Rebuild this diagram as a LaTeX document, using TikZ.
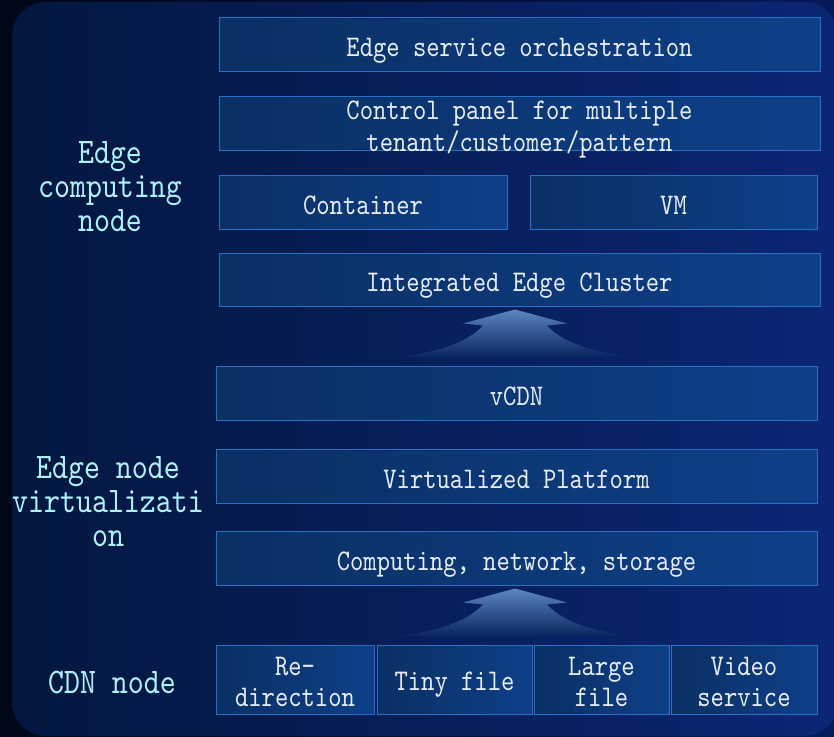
\documentclass[tikz,border=0pt]{standalone}
\usepackage{fontspec}
\setmonofont[Extension=.otf,FakeStretch=0.845]{lmmono10-regular}
\usetikzlibrary{calc}

\definecolor{outL}{HTML}{000818}
\definecolor{outR}{HTML}{06195A}
\definecolor{panelL}{HTML}{03173F}
\definecolor{panelR}{HTML}{0B2674}
\definecolor{boxL}{HTML}{0A3064}
\definecolor{boxR}{HTML}{0E3F88}
\definecolor{boxline}{HTML}{2770C6}
\definecolor{boxtext}{HTML}{E6EDF7}
\definecolor{labelc}{HTML}{AEF2FF}
\definecolor{arrtop}{HTML}{5A86C2}
\definecolor{arrbot}{HTML}{08245E}

\newcommand{\boxfont}{\ttfamily\fontsize{30}{31.5}\selectfont}
\newcommand{\tierfont}{\ttfamily\fontsize{36}{34}\selectfont}

\tikzset{
  layer/.style={draw=boxline, line width=1pt, left color=boxL, right color=boxR,
    inner sep=0pt, minimum height=54pt},
  caption/.style={inner sep=0pt, align=center, text=boxtext, font=\boxfont},
  tier/.style={align=center, text=labelc, font=\tierfont, inner sep=0pt},
  uparrow/.style={top color=arrtop, bottom color=arrbot}
}

\begin{document}
\begin{tikzpicture}[x=1pt,y=-1pt]
\useasboundingbox (0,0) rectangle (834,736);
% backdrop and rounded panel
\shade[left color=outL, right color=outR] (0,0) rectangle (834,736);
\shade[left color=panelL, right color=panelR] (12,2) [rounded corners=34] rectangle (838,736);

% edge computing layers
\node[layer, minimum width=601pt] (orch) at (519.5,44) {};
\node[layer, minimum width=601pt] (ctrl) at (519.5,123) {};
\node[layer, minimum width=288pt] (cont) at (363,202) {};
\node[layer, minimum width=287pt] (vm) at (673.5,202) {};
\node[layer, minimum width=601pt, minimum height=53pt] (cluster) at (519.5,279.5) {};

% edge node virtualization layers
\node[layer, minimum width=601pt] (vcdn) at (516.5,393) {};
\node[layer, minimum width=601pt] (virt) at (516.5,476) {};
\node[layer, minimum width=601pt] (res) at (516.5,558) {};

% CDN node services
\node[layer, minimum width=158pt, minimum height=69pt] (redir) at (295,679.5) {};
\node[layer, minimum width=155pt, minimum height=69pt] (tiny) at (454.5,679.5) {};
\node[layer, minimum width=135pt, minimum height=69pt] (large) at (601.5,679.5) {};
\node[layer, minimum width=146pt, minimum height=69pt] (video) at (744,679.5) {};

% captions: single lines sit on a baseline below the box centre
\node[caption, anchor=base] (orch-t) at ($(orch.center)+(0,12)$) {Edge service orchestration};
\node[caption] (ctrl-t) at ($(ctrl.center)+(0,6.5)$) {Control panel for multiple\\tenant/customer/pattern};
\node[caption, anchor=base] (cont-t) at ($(cont.center)+(0,12)$) {Container};
\node[caption, anchor=base] (vm-t) at ($(vm.center)+(0,12)$) {VM};
\node[caption, anchor=base] (cluster-t) at ($(cluster.center)+(0,12)$) {Integrated Edge Cluster};
\node[caption, anchor=base] (vcdn-t) at ($(vcdn.center)+(0,12)$) {vCDN};
\node[caption, anchor=base] (virt-t) at ($(virt.center)+(0,12)$) {Virtualized Platform};
\node[caption, anchor=base] (res-t) at ($(res.center)+(0,12)$) {Computing, network, storage};
\node[caption] (redir-t) at ($(redir.center)+(0,2.5)$) {Re-\\direction};
\node[caption, anchor=base] (tiny-t) at ($(tiny.center)+(0,11)$) {Tiny file};
\node[caption] (large-t) at ($(large.center)+(0,2.5)$) {Large\\file};
\node[caption] (video-t) at ($(video.center)+(0,2.5)$) {Video\\service};

% tier labels
\node[tier] (t1) at (110,187) {Edge\\computing\\node};
\node[tier] (t2) at (108,502) {Edge node\\virtualizati\\on};
\node[tier] (t3) at (112,682) {CDN node};

% upward arrows between tiers
\coordinate (a1) at ($(cluster.south)+(-4.5,3)$);
\coordinate (a2) at ($(res.south)+(-1.5,3)$);
\foreach \tip in {a1,a2}{
  \begin{scope}[shift={(\tip)}]
    \shade[uparrow] (0,0) -- (52,14) -- (32,16)
      .. controls (50,36) and (85,43) .. (117,48) -- (-117,48)
      .. controls (-85,43) and (-50,36) .. (-32,16) -- (-52,14) -- cycle;
  \end{scope}
}
\end{tikzpicture}
\end{document}
